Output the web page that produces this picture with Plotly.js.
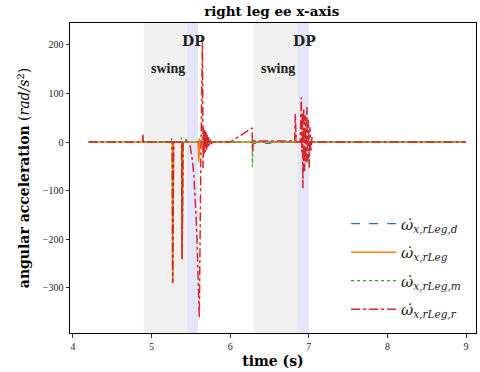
<!DOCTYPE html>
<html>
<head>
<meta charset="utf-8">
<script src="https://cdn.plot.ly/plotly-3.0.1.min.js"></script>
<style>html,body{margin:0;padding:0;background:#fff}#chart{width:480px;height:372px}</style>
</head>
<body>
<div id="chart"></div>
<script>
// ---- phases (s) ----
var swingStart = [4.90, 6.30];
var dpStart    = [5.45, 6.86];
var dpEnd      = [5.59, 7.00];
var phaseLabels = ["swing", "DP"];

// ---- desired (d) ----
var tD = [4.20, 5.26, 5.27, 5.28, 6.29, 6.30, 6.32, 6.50, 6.55, 9.00];
var vD = [0, 0, -4, 0, 0, -3, -3, -3, 0, 0];

// ---- actual (Leg) ----
var tL = [4.20, 4.885, 4.89, 4.895, 5.262, 5.268, 5.274, 5.28, 5.382, 5.388, 5.394, 5.40,
          5.59, 5.595, 5.60, 5.605, 5.61, 5.615, 5.62, 6.28, 6.285, 6.29, 6.83, 6.835, 6.84, 9.00];
var vL = [0, 0, 12, 0, 0, -290, -150, 0, 0, -241, -120, 0,
          0, -20, -41, 8, -30, 5, 0, 0, -8, 0, 0, 10, 0, 0];

// ---- measured (m) ----
var tM = [4.20, 5.25, 5.258, 5.265, 5.27, 5.276, 5.282, 5.37, 5.378, 5.385, 5.39, 5.396, 5.40,
          5.43, 5.44, 5.45, 6.278, 6.283, 6.29, 6.30, 9.00];
var vM = [0, 0, 8, 0, -286, -140, 0, 0, 9, 0, -238, -110, 0,
          0, 9, 0, 0, -51, -10, 0, 0];

// ---- reference (r) ----
var tR = [4.20, 4.885, 4.89, 4.895, 5.262, 5.268, 5.274, 5.28, 5.382, 5.388, 5.394, 5.40, 5.465,
          5.476, 5.49, 5.505, 5.52, 5.535, 5.55, 5.565, 5.58, 5.595, 5.607, 5.625, 5.647, 5.655,
          5.66, 5.668, 5.676, 5.684, 5.692, 5.70, 5.708, 5.716, 5.724, 5.734, 5.745, 5.76, 5.78,
          6.00, 6.10, 6.20, 6.28, 6.285, 6.29, 6.30, 6.82, 6.828, 6.834, 6.84, 6.89, 6.905, 6.91,
          6.918, 6.925, 6.935, 6.945, 6.955, 6.965, 6.975, 6.985, 6.995, 7.005, 7.015, 7.025,
          7.04, 7.05, 9.00];
var vR = [0, 0, 15, 0, 0, -290, -150, 0, 0, -241, -120, 0, 0,
          -2, -8, -20, -38, -62, -100, -150, -210, -280, -362, -60, 214, -54,
          30, -25, 25, -20, 22, -18, 16, -12, 10, -7, 5, -3, 0,
          0, 10, 20, 29, -20, 2, 2, 2, 58, 5, 0, 0, 92, -20,
          60, -95, 70, -60, 55, -45, 72, -40, 45, -53, 30, -20,
          10, 0, 0];

var traces = [
  {x: tD, y: vD, name: "<i>ω&#775;</i><sub><i>x,rLeg,d</i></sub>", line: {color: "#1f77b4", dash: "dash", width: 1.2}},
  {x: tL, y: vL, name: "<i>ω&#775;</i><sub><i>x,rLeg</i></sub>", line: {color: "#ff7f0e", dash: "solid", width: 1.5}},
  {x: tM, y: vM, name: "<i>ω&#775;</i><sub><i>x,rLeg,m</i></sub>", line: {color: "#2ca02c", dash: "dot", width: 1.2}},
  {x: tR, y: vR, name: "<i>ω&#775;</i><sub><i>x,rLeg,r</i></sub>", line: {color: "#d62728", dash: "dashdot", width: 1.5}}
].map(function (t, i) {
  t.type = "scatter"; t.mode = "lines"; t.legendgroup = "g" + i; return t;
});

var shapes = [], annotations = [];
for (var i = 0; i < swingStart.length; i++) {
  shapes.push({type: "rect", xref: "x", yref: "paper", x0: swingStart[i], x1: dpStart[i], y0: 0, y1: 1,
    fillcolor: "rgb(240,240,240)", line: {width: 0}, layer: "below"});
  shapes.push({type: "rect", xref: "x", yref: "paper", x0: dpStart[i], x1: dpEnd[i], y0: 0, y1: 1,
    fillcolor: "rgb(228,228,250)", line: {width: 0}, layer: "below"});
  annotations.push({x: (swingStart[i] + dpStart[i]) / 2 + 0.03, y: 152, xref: "x", yref: "y", text: "<b>" + phaseLabels[0] + "</b>",
    showarrow: false, font: {family: "Liberation Serif", size: 14, color: "#222"}});
  annotations.push({x: (dpStart[i] + dpEnd[i]) / 2 + 0.01, y: 208, xref: "x", yref: "y", text: "<b>" + phaseLabels[1] + "</b>",
    showarrow: false, font: {family: "DejaVu Serif", size: 14, color: "#222"}});
}

var axisCommon = {
  showgrid: false, zeroline: false, showline: true, linecolor: "#000", linewidth: 1, mirror: true,
  ticks: "outside", ticklen: 3.5, tickwidth: 0.8, tickcolor: "#000",
  tickfont: {family: "Liberation Serif", size: 10, color: "#222"}
};

var layout = {
  width: 480, height: 372,
  margin: {l: 70, r: 4, t: 23, b: 39},
  paper_bgcolor: "#fff", plot_bgcolor: "#fff",
  title: {text: "<b>right leg ee x-axis</b>", x: 0.566, xanchor: "center", y: 0.970, yanchor: "middle",
    font: {family: "DejaVu Serif", size: 13.5, color: "#000"}},
  xaxis: Object.assign({}, axisCommon, {range: [3.962, 9.127], tickvals: [4, 5, 6, 7, 8, 9],
    title: {text: "<b>time (s)</b>", standoff: 5, font: {family: "DejaVu Serif", size: 14, color: "#000"}}}),
  yaxis: Object.assign({}, axisCommon, {range: [-393, 245], tickvals: [-300, -200, -100, 0, 100, 200],
    title: {text: "<b>angular acceleration</b> (<i>rad/s</i><sup>2</sup>)", standoff: 9, font: {family: "DejaVu Serif", size: 14, color: "#000"}}}),
  showlegend: true,
  legend: {x: 0.68, y: 0.405, xanchor: "left", yanchor: "top", bgcolor: "rgba(255,255,255,0)",
    traceorder: "grouped", tracegroupgap: 6, itemwidth: 45,
    font: {family: "DejaVu Serif", size: 15, color: "#222"}},
  shapes: shapes, annotations: annotations
};

Plotly.newPlot("chart", traces, layout, {displayModeBar: false, staticPlot: true});
</script>
</body>
</html>
